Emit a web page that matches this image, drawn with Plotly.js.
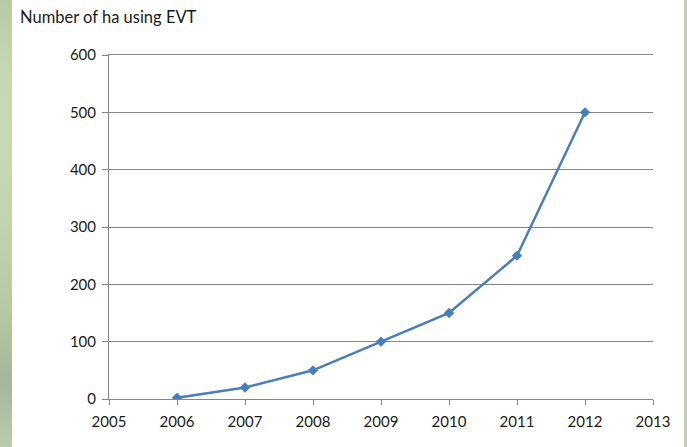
<!DOCTYPE html>
<html>
<head>
<meta charset="utf-8">
<script src="https://cdn.plot.ly/plotly-3.0.1.min.js"></script>
<style>
html,body{margin:0;padding:0;background:#fff;}
#wrap{position:relative;width:687px;height:447px;overflow:hidden;}
#lstrip{position:absolute;left:0;top:0;width:12px;height:447px;
background:linear-gradient(to bottom,#b9c9a6 0%,#c6d6b0 15%,#c9d9b4 30%,#c3d3ae 50%,#b7c6a4 70%,#a9b59b 85%,#bdc9ad 100%);}
#rstrip{position:absolute;right:0;top:0;width:3px;height:447px;background:#c3cfb0;}
#chart{position:absolute;left:0;top:0;width:687px;height:447px;}
</style>
</head>
<body>
<div id="wrap">
<div id="chart"></div>
<div id="lstrip"></div>
<div id="rstrip"></div>
</div>
<script>
var years = [2006, 2007, 2008, 2009, 2010, 2011, 2012];
var hectares = [2, 20, 50, 100, 150, 250, 500];
var xTicks = [2005, 2006, 2007, 2008, 2009, 2010, 2011, 2012, 2013];
var yTicks = [0, 100, 200, 300, 400, 500, 600];
var chartTitle = "Number of ha using EVT";

var trace = {
  x: years, y: hectares, type: 'scatter', mode: 'lines+markers',
  line: {color: '#4a7ebb', width: 2.5},
  marker: {symbol: 'diamond', size: 8, color: '#4a7ebb'},
  hoverinfo: 'x+y'
};
var font = {family: 'Lato, "Open Sans", sans-serif', size: 15, color: '#1a1a1a'};
var layout = {
  width: 687, height: 447,
  margin: {l: 109, r: 34, t: 55, b: 48},
  paper_bgcolor: 'rgba(0,0,0,0)', plot_bgcolor: '#fff',
  showlegend: false,
  font: font,
  xaxis: {
    range: [2005, 2013], tickvals: xTicks, ticktext: xTicks.map(String),
    showgrid: false, zeroline: false, showline: true, mirror: true, linecolor: '#868686', linewidth: 1,
    ticks: 'outside', ticklen: 5, tickcolor: '#868686', tickfont: font, ticklabelstandoff: 4
  },
  yaxis: {
    range: [0, 600], tickvals: yTicks, ticktext: yTicks.map(String),
    showgrid: true, gridcolor: '#868686', gridwidth: 1, zeroline: false,
    showline: true, linecolor: '#868686', linewidth: 1,
    ticks: 'outside', ticklen: 6, tickcolor: '#868686', tickfont: font, ticklabelstandoff: 3
  },
  annotations: [{
    text: chartTitle, xref: 'paper', yref: 'paper', x: 0, y: 1,
    xanchor: 'left', yanchor: 'middle', showarrow: false,
    font: {family: 'Lato, "Open Sans", sans-serif', size: 16.5, color: '#1a1a1a'},
    xshift: -91, yshift: 38
  }]
};
Plotly.newPlot('chart', [trace], layout, {displayModeBar: false, staticPlot: true});
</script>
</body>
</html>
